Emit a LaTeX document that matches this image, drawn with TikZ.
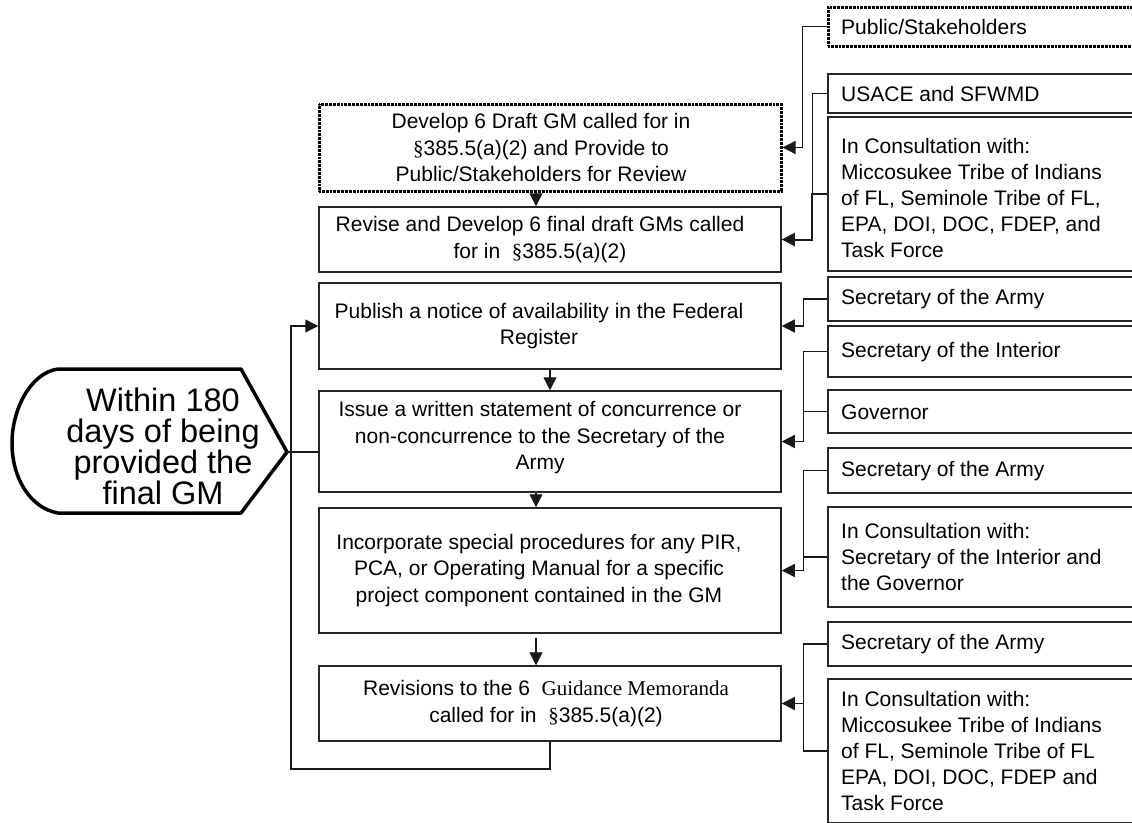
\documentclass[tikz,border=0pt]{standalone}
\usepackage{fontspec}
\setmainfont{Liberation Sans}
\newfontfamily\seriffam{Liberation Serif}
\usetikzlibrary{arrows.meta}
\newcommand{\sectsign}{{\seriffam\S}}
\begin{document}
\begin{tikzpicture}[x=1pt,y=-1pt,
  conn/.style={draw=black!90, line width=1.3pt},
  arr/.style={conn, -{Triangle[length=13pt,width=13pt]}},
  mainbox/.style={draw=black!85, line width=1.5pt, rectangle, inner sep=0pt, minimum width=462pt},
  rbox/.style={draw=black!85, line width=1.5pt, rectangle, inner sep=0pt, minimum width=314pt},
  dotbox/.style={draw=black, line width=3pt, dash pattern=on 1pt off 0.35pt},
  maintext/.style={font=\fontsize{21pt}{26.5pt}\selectfont, align=center, inner sep=0pt},
  rtext/.style={font=\fontsize{21pt}{25.8pt}\selectfont, align=left, anchor=west, inner sep=0pt},
  hextext/.style={font=\fontsize{32.5pt}{31pt}\selectfont, align=center, inner sep=0pt},
  hexline/.style={draw=black, line width=3.5pt, line join=round}
]
\useasboundingbox (0,0) rectangle (1132,822);
\clip (0,0) rectangle (1132,822);

% main boxes
\node[mainbox, dotbox, minimum height=87pt]  (b1) at (550,147.5) {};
\node[mainbox, minimum height=65pt]  (b2) at (550,239.5) {};
\node[mainbox, minimum height=86pt]  (b3) at (550,326) {};
\node[mainbox, minimum height=101pt] (b4) at (550,441.5) {};
\node[mainbox, minimum height=125pt] (b5) at (550,570.5) {};
\node[mainbox, minimum height=75pt]  (b6) at (550,703.5) {};

\node[maintext] (t1) at (541,147.5) {Develop 6 Draft GM called for in\\\sectsign385.5(a)(2) and Provide to\\Public/Stakeholders for Review};
\node[maintext] (t2) at (540,239.5) {Revise and Develop 6 final draft GMs called\\for in \ \sectsign385.5(a)(2)};
\node[maintext] (t3) at (539,326) {Publish a notice of availability in the Federal\\Register};
\node[maintext] (t4) at (540,438) {Issue a written statement of concurrence or\\non-concurrence to the Secretary of the\\Army};
\node[maintext] (t5) at (539,570.5) {Incorporate special procedures for any PIR,\\PCA, or Operating Manual for a specific\\project component contained in the GM};
\node[maintext] (t6) at (546,703.5) {Revisions to the 6 \ {\seriffam Guidance Memoranda}\\called for in \ \sectsign385.5(a)(2)};

% right boxes
\node[rbox, dotbox, minimum height=39pt] (r1) at (985,26.5) {};
\node[rbox, minimum height=39pt]  (r2) at (985,93.5) {};
\node[rbox, minimum height=154pt] (r3) at (985,194) {};
\node[rbox, minimum height=44pt]  (r4) at (985,299) {};
\node[rbox, minimum height=51pt]  (r5) at (985,351.5) {};
\node[rbox, minimum height=43pt]  (r6) at (985,411.5) {};
\node[rbox, minimum height=45pt]  (r7) at (985,470.5) {};
\node[rbox, minimum height=100pt] (r8) at (985,557) {};
\node[rbox, minimum height=44pt]  (r9) at (985,644) {};
\node[rbox, minimum height=144pt] (r10) at (985,751) {};

\node[rtext] (rt1) at (841,27) {Public/Stakeholders};
\node[rtext] (rt2) at (841,94) {USACE and SFWMD};
\node[rtext] (rt3) at (841,198) {In Consultation with:\\Miccosukee Tribe of Indians\\of FL, Seminole Tribe of FL,\\EPA, DOI, DOC, FDEP, and\\Task Force};
\node[rtext] (rt4) at (841,299) {Secretary of the Army};
\node[rtext] (rt5) at (841,352) {Secretary of the Interior};
\node[rtext] (rt6) at (841,412) {Governor};
\node[rtext] (rt7) at (841,471) {Secretary of the Army};
\node[rtext] (rt8) at (841,557) {In Consultation with:\\Secretary of the Interior and\\the Governor};
\node[rtext] (rt9) at (841,644) {Secretary of the Army};
\node[rtext] (rt10) at (841,751) {In Consultation with:\\Miccosukee Tribe of Indians\\of FL, Seminole Tribe of FL\\EPA, DOI, DOC, FDEP and\\Task Force};

% display shape
\coordinate (tip) at (287,452);
\draw[hexline] (58,369) -- (241,369) -- (tip) -- (241,513) -- (58,513)
  .. controls (30,508) and (12,478) .. (12,443)
  .. controls (12,410) and (30,373) .. (58,369) -- cycle;
\node[hextext] (ht) at (163,446) {Within 180\\days of being\\provided the\\final GM};

% connectors between main boxes
\draw[arr] ([xshift=-14pt]b1.south) -- ([xshift=-14pt]b2.north);
\draw[arr] (b3.south) -- (b4.north);
\draw[arr] ([xshift=-14pt]b4.south) -- ([xshift=-14pt]b5.north);
\draw[arr] ([xshift=-14pt,yshift=-4pt]b5.south) -- ([xshift=-14pt]b6.north);

% loop back
\coordinate (loopA) at (550,769);
\coordinate (loopB) at (291,769);
\draw[arr] (b6.south) -- (loopA) -- (loopB) |- (b3.west);
\draw[conn] (tip) -- (tip -| b4.west);

% right side connectors
\draw[arr] (r1.west) -- ++(-24,0) |- (b1.east);
\draw[conn] (r2.west) -- ++(-15,0) |- (b2.east);
\draw[arr, line width=2pt] (r3.west) -- ++(-15,0) |- (b2.east);
\draw[arr] (r4.west) -- ++(-24,0) |- (b3.east);
\draw[conn] (r6.west) -- ++(-24,0) |- (b4.east);
\draw[arr] (r5.west) -- ++(-24,0) |- (b4.east);
\draw[conn] (r8.west) -- ++(-24,0) |- (b5.east);
\draw[arr] (r7.west) -- ++(-24,0) |- (b5.east);
\draw[conn] (r10.west) -- ++(-24,0) |- (b6.east);
\draw[arr] (r9.west) -- ++(-24,0) |- (b6.east);
\end{tikzpicture}
\end{document}
